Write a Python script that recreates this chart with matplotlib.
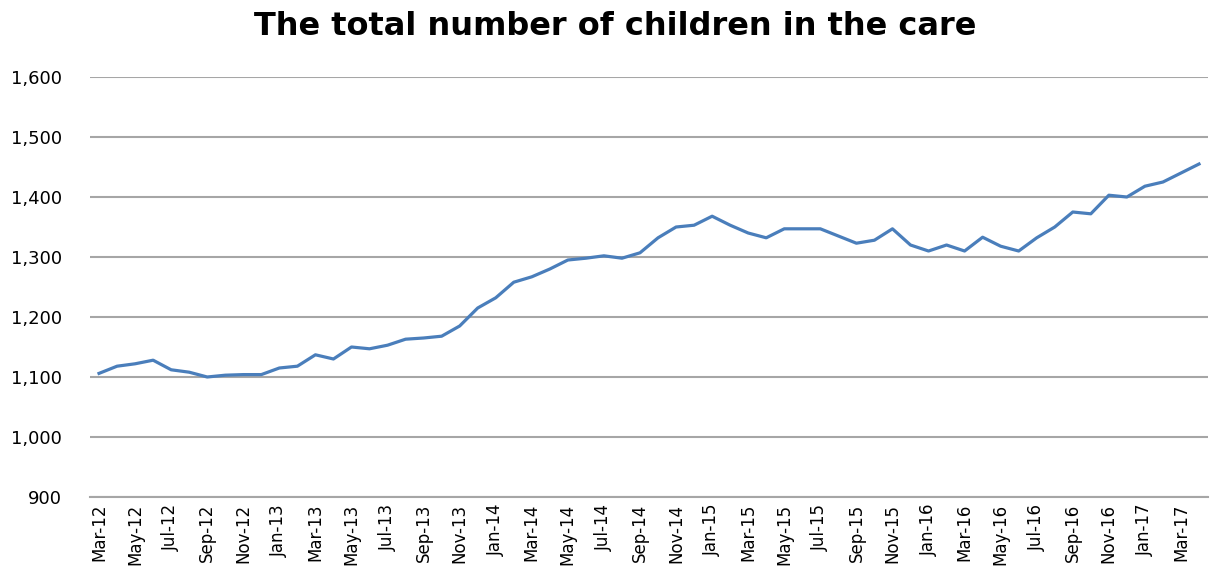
import matplotlib.pyplot as plt

months = ["Mar", "Apr", "May", "Jun", "Jul", "Aug", "Sep", "Oct", "Nov", "Dec", "Jan", "Feb"]
labels = []
for i in range(62):
    m = months[i % 12]
    yr = 12 + (i + 2) // 12
    labels.append(f"{m}-{yr}")

children = [1106, 1118, 1122, 1128, 1112, 1108, 1100, 1103, 1104, 1104,
            1115, 1118, 1137, 1130, 1150, 1147, 1153, 1163, 1165, 1168,
            1185, 1215, 1232, 1258, 1267, 1280, 1295, 1298, 1302, 1298,
            1307, 1332, 1350, 1353, 1368, 1353, 1340, 1332, 1347, 1347,
            1347, 1335, 1323, 1328, 1347, 1320, 1310, 1320, 1310, 1333,
            1318, 1310, 1332, 1350, 1375, 1372, 1403, 1400, 1418, 1425,
            1440, 1455]
yticks = [900, 1000, 1100, 1200, 1300, 1400, 1500, 1600]

fig = plt.figure(figsize=(12.13, 5.88), dpi=100)
ax = fig.add_axes([0.0742, 0.1548, 0.9217, 0.7142])

x = list(range(len(children)))
ax.plot(x, children, color="#4A7EBB", linewidth=2.3, solid_joinstyle="round")

ax.set_ylim(900, 1600)
ax.set_xlim(-0.5, len(children) - 0.5)
ax.set_yticks(yticks)
ax.set_yticklabels([f"{v:,}" for v in yticks], fontsize=13)
ax.set_xticks(x[::2])
ax.set_xticklabels(labels[::2], rotation=90, fontsize=12)
ax.tick_params(axis="y", length=0, pad=20)
ax.tick_params(axis="x", length=0, pad=5)
ax.grid(axis="y", color="#A6A6A6", linewidth=1.5)
ax.set_axisbelow(True)
for side in ["top", "right", "left"]:
    ax.spines[side].set_visible(False)
ax.spines["bottom"].set_color("#A6A6A6")
ax.spines["bottom"].set_linewidth(1.5)

fig.text(0.507, 0.955, "The total number of children in the care",
         ha="center", va="center", fontsize=23, fontweight="bold")

fig.savefig("out.png", dpi=100)
